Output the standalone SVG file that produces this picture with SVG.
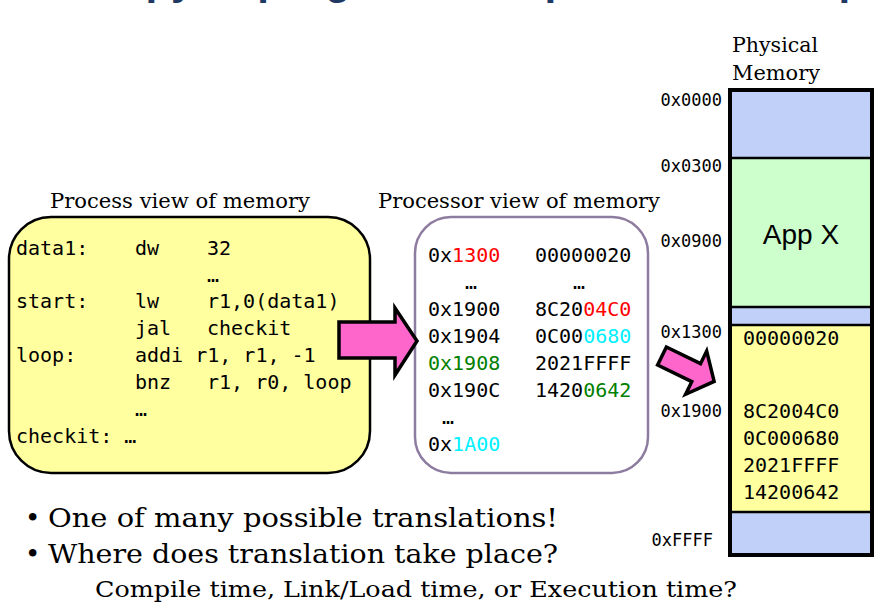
<svg xmlns="http://www.w3.org/2000/svg" width="882" height="614" viewBox="0 0 882 614">
<style>
.mono{font-family:"DejaVu Sans Mono","Liberation Mono",monospace;font-size:20px;fill:#000}
.addr{font-family:"DejaVu Sans Mono","Liberation Mono",monospace;font-size:17px;fill:#000;text-anchor:end}
.serif{font-family:"DejaVu Serif","Liberation Serif",serif;fill:#000}
.arrow{fill:#FF66CC;stroke:#000;stroke-width:3.5;stroke-linejoin:miter}
.red{fill:#FF0000}.cyan{fill:#00F0FF}.green{fill:#008000}
.seg{stroke:#000;stroke-width:2.5}
</style>
<rect width="882" height="614" fill="#fff"/>
<g id="title">
<text x="-67" y="-6" font-family="Liberation Sans, Arial, sans-serif" font-weight="bold" font-size="42" fill="#1F3864">Second copy of program from previous example</text>
</g>
<g id="process-view">
<text class="serif" x="50" y="208" font-size="21" textLength="260" lengthAdjust="spacingAndGlyphs">Process view of memory</text>
<rect x="9" y="217" width="361" height="256" rx="42" ry="42" fill="#FFFFA0" stroke="#000" stroke-width="2.5"/>
<text class="mono" x="16" y="255">data1:</text>
<text class="mono" x="135" y="255">dw</text>
<text class="mono" x="207" y="255">32</text>
<text class="mono" x="207" y="282">…</text>
<text class="mono" x="16" y="308">start:</text>
<text class="mono" x="135" y="308">lw</text>
<text class="mono" x="207" y="308">r1,0(data1)</text>
<text class="mono" x="135" y="335">jal</text>
<text class="mono" x="207" y="335">checkit</text>
<text class="mono" x="16" y="362">loop:</text>
<text class="mono" x="135" y="362">addi r1, r1, -1</text>
<text class="mono" x="135" y="389">bnz</text>
<text class="mono" x="207" y="389">r1, r0, loop</text>
<text class="mono" x="135" y="416">…</text>
<text class="mono" x="16" y="443">checkit: …</text>
</g>
<g id="processor-view">
<text class="serif" x="378" y="208" font-size="21" textLength="282" lengthAdjust="spacingAndGlyphs">Processor view of memory</text>
<rect x="415" y="217" width="233" height="256" rx="36" ry="36" fill="#fff" stroke="#8E7CA0" stroke-width="2.5"/>
<text class="mono" x="428" y="262">0x<tspan class="red">1300</tspan></text>
<text class="mono" x="535" y="262">00000020</text>
<text class="mono" x="465" y="289">…</text>
<text class="mono" x="573" y="289">…</text>
<text class="mono" x="428" y="316">0x1900</text>
<text class="mono" x="535" y="316">8C20<tspan class="red">04C0</tspan></text>
<text class="mono" x="428" y="343">0x1904</text>
<text class="mono" x="535" y="343">0C00<tspan class="cyan">0680</tspan></text>
<text class="mono green" x="428" y="370">0x1908</text>
<text class="mono" x="535" y="370">2021FFFF</text>
<text class="mono" x="428" y="397">0x190C</text>
<text class="mono" x="535" y="397">1420<tspan class="green">0642</tspan></text>
<text class="mono" x="442" y="424">…</text>
<text class="mono" x="428" y="451">0x<tspan class="cyan">1A00</tspan></text>
</g>
<g id="physical-memory">
<text class="serif" x="732" y="52" font-size="20" textLength="86" lengthAdjust="spacingAndGlyphs">Physical</text>
<text class="serif" x="732" y="80" font-size="20" textLength="88" lengthAdjust="spacingAndGlyphs">Memory</text>
<rect x="730" y="90" width="142" height="68" fill="#C0D0F8"/>
<rect x="730" y="158" width="142" height="149" fill="#CCFFCC"/>
<rect x="730" y="307" width="142" height="18" fill="#C0D0F8"/>
<rect x="730" y="325" width="142" height="187" fill="#FFFFA0"/>
<rect x="730" y="512" width="142" height="43" fill="#C0D0F8"/>
<line class="seg" x1="730" y1="158" x2="872" y2="158"/>
<line class="seg" x1="730" y1="307" x2="872" y2="307"/>
<line class="seg" x1="730" y1="325" x2="872" y2="325"/>
<line class="seg" x1="730" y1="512" x2="872" y2="512"/>
<rect x="730" y="90" width="142" height="465" fill="none" stroke="#000" stroke-width="4"/>
<text x="801" y="244" font-family="Liberation Sans, Arial, sans-serif" font-size="28" text-anchor="middle">App X</text>
<text class="mono" x="743" y="345">00000020</text>
<text class="mono" x="743" y="418">8C2004C0</text>
<text class="mono" x="743" y="445">0C000680</text>
<text class="mono" x="743" y="472">2021FFFF</text>
<text class="mono" x="743" y="499">14200642</text>
<text class="addr" x="722" y="106">0x0000</text>
<text class="addr" x="722" y="172">0x0300</text>
<text class="addr" x="722" y="247">0x0900</text>
<text class="addr" x="722" y="338">0x1300</text>
<text class="addr" x="722" y="417">0x1900</text>
<text class="addr" x="713" y="546">0xFFFF</text>
</g>
<g id="connectors">
<polygon class="arrow" points="339,322 395,322 395,308 417,341 395,375 395,358 339,358"/>
<polygon class="arrow" points="0,-10 38,-10 38,-24 58,0 38,24 38,10 0,10" transform="translate(662,356) rotate(26)"/>
</g>
<g id="notes">
<text class="serif" x="25" y="527" font-size="26">•</text>
<text class="serif" x="48" y="527" font-size="26" textLength="510" lengthAdjust="spacingAndGlyphs">One of many possible translations!</text>
<text class="serif" x="25" y="563" font-size="26">•</text>
<text class="serif" x="48" y="563" font-size="26" textLength="510" lengthAdjust="spacingAndGlyphs">Where does translation take place?</text>
<text class="serif" x="95" y="597" font-size="23" textLength="642" lengthAdjust="spacingAndGlyphs">Compile time, Link/Load time, or Execution time?</text>
</g>
</svg>
